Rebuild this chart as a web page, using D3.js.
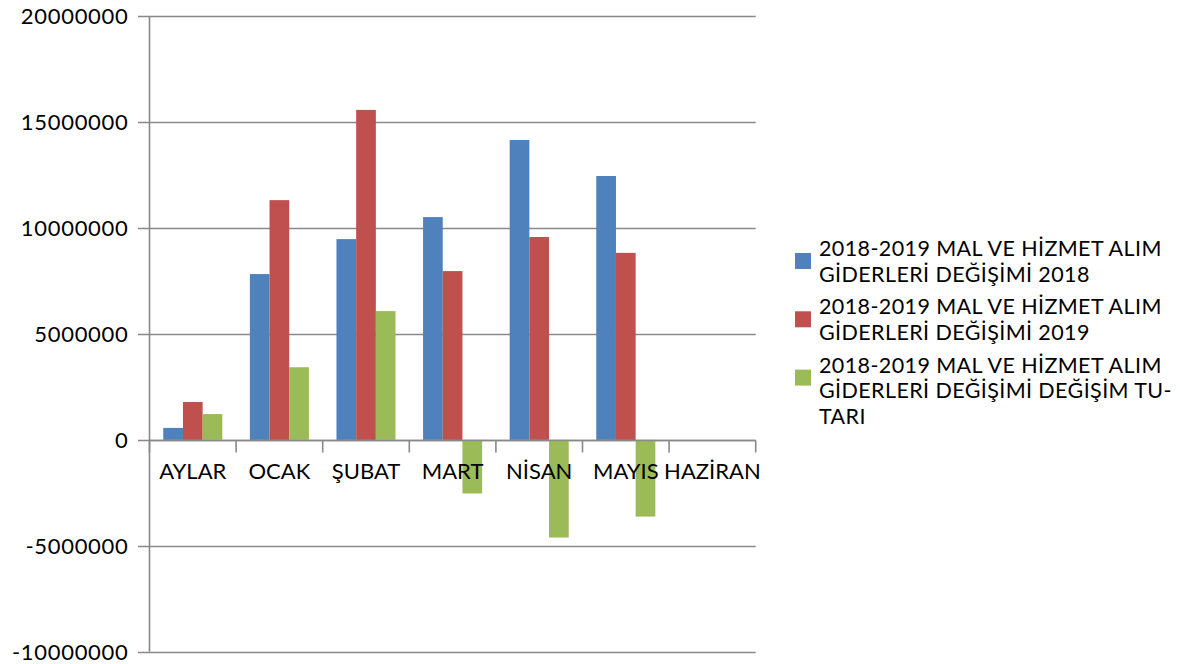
<!DOCTYPE html>
<html>
<head>
<meta charset="utf-8">
<script src="https://cdn.jsdelivr.net/npm/d3@7"></script>
<style>
  html, body { margin: 0; padding: 0; background: #fff; }
  svg { display: block; font-family: Lato, "Open Sans", sans-serif; }
</style>
</head>
<body>
<svg id="chart" width="1180" height="664"></svg>
<script>
const categories = ["AYLAR", "OCAK", "ŞUBAT", "MART", "NİSAN", "MAYIS", "HAZİRAN"];
const series2018 = [567000, 7830000, 9480000, 10520000, 14160000, 12460000, null];
const series2019 = [1790000, 11320000, 15580000, 7970000, 9580000, 8830000, null];
const seriesDiff = [1220000, 3430000, 6080000, -2530000, -4610000, -3620000, null];
const seriesNames = [
  ["2018-2019 MAL VE HİZMET ALIM", "GİDERLERİ DEĞİŞİMİ 2018"],
  ["2018-2019 MAL VE HİZMET ALIM", "GİDERLERİ DEĞİŞİMİ 2019"],
  ["2018-2019 MAL VE HİZMET ALIM", "GİDERLERİ DEĞİŞİMİ DEĞİŞİM TU-", "TARI"]
];
const colors = ["#4F81BD", "#C0504D", "#9BBB59"];
const yTicks = [-10000000, -5000000, 0, 5000000, 10000000, 15000000, 20000000];

(function () {
const svg = d3.select("#chart");
const pLeft = 149.5, pRight = 755.7, pTop = 16.3, pBottom = 651.7;
const gridColor = "#898989";
const fmt = d3.formatLocale({ decimal: ".", thousands: "", grouping: [3], currency: ["", ""], minus: "-" }).format("d");

const y = d3.scaleLinear().domain([-10000000, 20000000]).range([pBottom, pTop]);
const x = d3.scaleBand().domain(categories).range([pLeft, pRight]).paddingInner(0).paddingOuter(0);
const groupWidth = x.bandwidth() * 0.682;
const xs = d3.scaleBand().domain([0, 1, 2]).range([0, groupWidth]).padding(0);

// gridlines + y tick marks
svg.append("g").selectAll("line").data(yTicks).join("line")
  .attr("x1", pLeft - 11.5).attr("x2", pRight)
  .attr("y1", d => Math.round(y(d)) + 0.5).attr("y2", d => Math.round(y(d)) + 0.5)
  .attr("stroke", gridColor).attr("stroke-width", 1.6);

// y tick labels
svg.append("g").selectAll("text").data(yTicks).join("text")
  .attr("x", 128.5).attr("y", d => y(d))
  .attr("dy", "0.36em")
  .attr("text-anchor", "end")
  .attr("font-size", 22)
  .attr("letter-spacing", "0.7px")
  .attr("fill", "#000")
  .text(d => fmt(d));

// bars
const allSeries = [series2018, series2019, seriesDiff];
allSeries.forEach((vals, si) => {
  svg.append("g").selectAll("rect")
    .data(categories.map((c, i) => ({ c, v: vals[i] })).filter(d => d.v !== null))
    .join("rect")
    .attr("x", d => x(d.c) + (x.bandwidth() - groupWidth) / 2 + xs(si))
    .attr("width", xs.bandwidth())
    .attr("y", d => y(Math.max(0, d.v)))
    .attr("height", d => Math.abs(y(d.v) - y(0)))
    .attr("fill", colors[si]);
});

// y axis line
svg.append("line")
  .attr("x1", pLeft).attr("x2", pLeft)
  .attr("y1", pTop).attr("y2", pBottom)
  .attr("stroke", gridColor).attr("stroke-width", 1.6);

// x axis (at zero) + category ticks
const y0 = Math.round(y(0)) + 0.5;
svg.append("line")
  .attr("x1", pLeft).attr("x2", pRight)
  .attr("y1", y0).attr("y2", y0)
  .attr("stroke", gridColor).attr("stroke-width", 1.6);
const bounds = categories.map(c => x(c)).concat([pRight]);
svg.append("g").selectAll("line").data(bounds).join("line")
  .attr("x1", d => d).attr("x2", d => d)
  .attr("y1", y0).attr("y2", y0 + 12)
  .attr("stroke", gridColor).attr("stroke-width", 1.6);

// category labels
svg.append("g").selectAll("text").data(categories).join("text")
  .attr("x", d => x(d) + x.bandwidth() / 2)
  .attr("y", 479)
  .attr("text-anchor", "middle")
  .attr("font-size", 22)
  .attr("fill", "#000")
  .text(d => d);

// legend
const legend = svg.append("g");
const lineH = 25.7;
let baseY = 256;
seriesNames.forEach((lines, i) => {
  const g = legend.append("g");
  g.append("rect")
    .attr("x", 795).attr("y", baseY - 3)
    .attr("width", 16).attr("height", 16)
    .attr("fill", colors[i]);
  lines.forEach((t, j) => {
    g.append("text")
      .attr("x", 819).attr("y", baseY + j * lineH)
      .attr("font-size", 21.5)
      .attr("letter-spacing", "0.4px")
      .attr("fill", "#000")
      .text(t);
  });
  baseY += (lines.length - 1) * lineH + 32.6;
});
})();
</script>
</body>
</html>
